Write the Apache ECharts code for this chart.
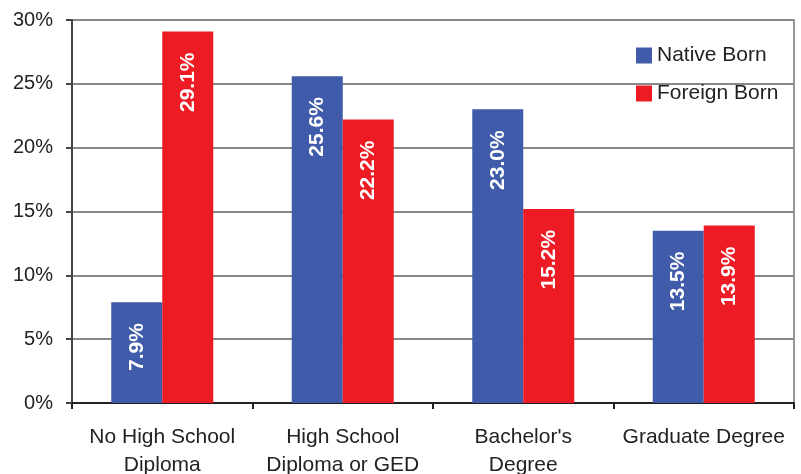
<!DOCTYPE html>
<html><head><meta charset="utf-8">
<script src="https://cdn.jsdelivr.net/npm/echarts@6/dist/echarts.min.js"></script>
<style>html,body{margin:0;padding:0;background:#fff}#c{width:801px;height:474px}</style>
</head><body><div id="c"></div>
<script>
var categories = ["No High School\nDiploma", "High School\nDiploma or GED", "Bachelor's\nDegree", "Graduate Degree"];
var nativeBorn = [7.9, 25.6, 23.0, 13.5];
var foreignBorn = [29.1, 22.2, 15.2, 13.9];
var seriesNames = ["Native Born", "Foreign Born"];

var chart = echarts.init(document.getElementById('c'));
var font = "'Liberation Sans', Arial, sans-serif";
var lbl = {
  show: true, position: 'insideTop', rotate: 90, align: 'right', verticalAlign: 'middle',
  distance: 21, color: '#fff', fontWeight: 'bold', fontSize: 21, fontFamily: font,
  formatter: function(p){ return p.value.toFixed(1) + '%'; }
};
chart.setOption({
  animation: false,
  textStyle: {fontFamily: font},
  legend: {
    orient: 'vertical', left: 631, top: 40, itemWidth: 16, itemHeight: 16, itemGap: 17,
    textStyle: {fontSize: 21, color: '#222', fontFamily: font}, icon: 'rect', itemStyle: {borderWidth: 0},
    data: seriesNames
  },
  grid: {left: 72, right: 7, top: 20, bottom: 71, show: true, borderColor: '#777', borderWidth: 1.5,
         containLabel: false, outerBoundsMode: 'none'},
  xAxis: {
    type: 'category', data: categories,
    axisLine: {lineStyle: {color: '#222', width: 2}},
    axisTick: {show: true, length: 6, lineStyle: {color: '#222', width: 2}},
    axisLabel: {interval: 0, hideOverlap: false, fontSize: 21, color: '#222', lineHeight: 28, margin: 20, fontFamily: font}
  },
  yAxis: {
    type: 'value', min: 0, max: 30, interval: 5,
    axisLine: {show: true, lineStyle: {color: '#444', width: 2}},
    axisTick: {show: true, length: 6, lineStyle: {color: '#444', width: 2}},
    axisLabel: {fontSize: 20, color: '#222', formatter: '{value}%', margin: 19, fontFamily: font},
    splitLine: {lineStyle: {color: '#888', width: 2}}
  },
  series: [
    {name: seriesNames[0], type: 'bar', data: nativeBorn, barWidth: 51, barGap: '0%',
     itemStyle: {color: '#3F5BA9'}, label: lbl},
    {name: seriesNames[1], type: 'bar', data: foreignBorn, barWidth: 51, barGap: '0%',
     itemStyle: {color: '#ED1C24'}, label: lbl}
  ]
});
</script></body></html>
